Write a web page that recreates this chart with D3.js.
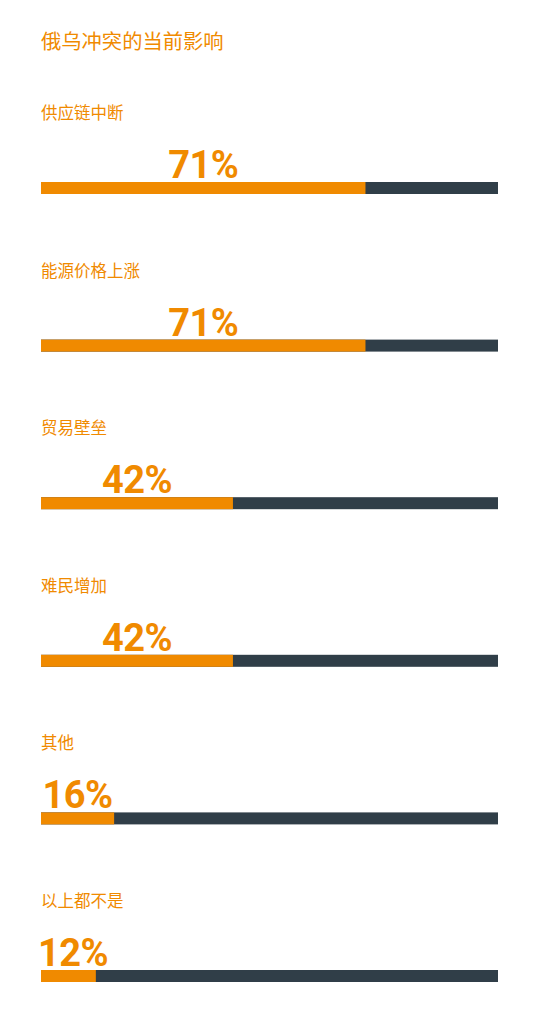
<!DOCTYPE html>
<html>
<head>
<meta charset="utf-8">
<script src="https://d3js.org/d3.v7.min.js"></script>
<style>
  body { margin: 0; background: #fff; }
</style>
</head>
<body>
<div id="chart"></div>
<script>
// data
var title = "俄乌冲突的当前影响"
var categories = ["供应链中断", "能源价格上涨", "贸易壁垒", "难民增加", "其他", "以上都不是"]
var values = [71, 71, 42, 42, 16, 12]

var width = 540, height = 1035
var orange = "#f08a00", dark = "#303e48"
var barH = 12

var svg = d3.select("#chart")
  .append("svg")
  .attr("width", width)
  .attr("height", height)

// x scale for the bars
var x = d3.scaleLinear()
  .domain([0, 100])
  .range([41, 498])

// y position of each row's bar (top edge)
var y = d3.scalePoint()
  .domain(categories)
  .range([182, 970])

svg.append("text")
  .attr("x", 41)
  .attr("y", 49)
  .attr("fill", orange)
  .attr("font-family", "'Noto Sans CJK SC', 'Noto Sans', sans-serif")
  .attr("font-size", 20.3)
  .text(title)

var rows = svg.selectAll("g.row")
  .data(categories)
  .enter()
  .append("g")
  .attr("class", "row")
  .attr("transform", function(d){ return "translate(0," + y(d) + ")" })

// category label
rows.append("text")
  .attr("x", 41)
  .attr("y", -63)
  .attr("fill", orange)
  .attr("font-family", "'Noto Sans CJK SC', 'Noto Sans', sans-serif")
  .attr("font-size", 16.5)
  .text(function(d){ return d })

// background bar
rows.append("rect")
  .attr("x", x(0))
  .attr("y", 0)
  .attr("width", x(100) - x(0))
  .attr("height", barH)
  .attr("fill", dark)

// value bar
rows.append("rect")
  .attr("x", x(0))
  .attr("y", 0)
  .attr("width", function(d, i){ return x(values[i]) - x(0) })
  .attr("height", barH)
  .attr("fill", orange)

// percentage, centred on the middle of the orange part
rows.append("text")
  .attr("y", -4)
  .attr("fill", orange)
  .attr("font-family", "Roboto, sans-serif")
  .attr("font-weight", 700)
  .attr("font-size", 38)
  .attr("letter-spacing", -0.6)
  .attr("text-anchor", "middle")
  .text(function(d, i){ return values[i] + "%" })
  .attr("x", function(d, i){
    var w = this.getComputedTextLength()
    return Math.max(x(values[i] / 2), x(0) + w / 2 - 3)
  })
</script>
</body>
</html>
